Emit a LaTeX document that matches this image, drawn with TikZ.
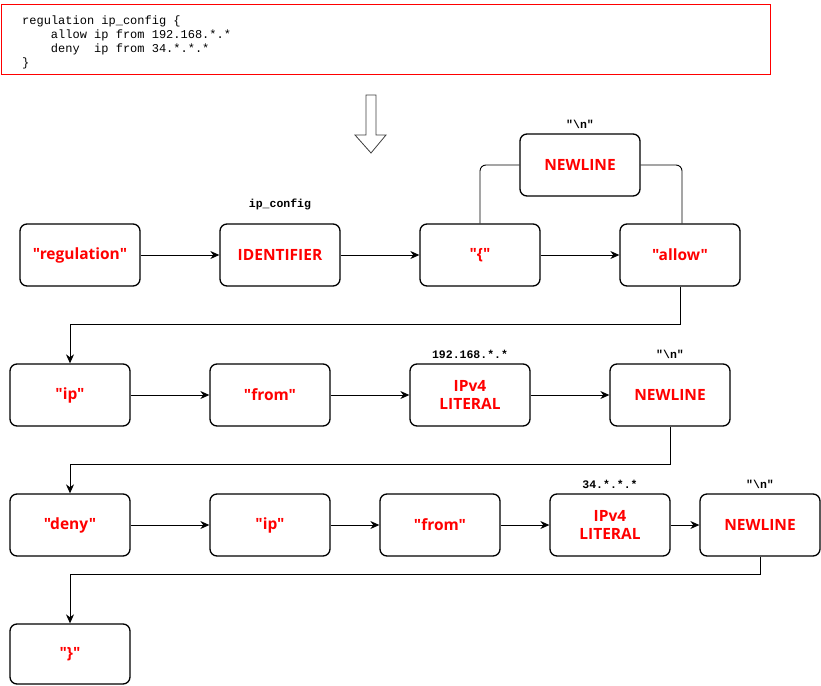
\documentclass[tikz,border=0pt]{standalone}
\usepackage{fontspec}
\setmainfont{Open Sans}
\newfontfamily\codefont{Liberation Mono}
\newfontfamily\tokfamily{Open Sans}
\usetikzlibrary{arrows.meta}
\definecolor{tokred}{RGB}{255,0,0}
\tikzset{
  tok/.style={draw=black, line width=1.3pt, rounded corners=7pt, minimum width=120pt, minimum height=62pt,
    text=tokred, font=\tokfamily\bfseries\fontsize{15.5}{18}\selectfont, align=center, inner sep=0pt},
  lbl/.style={font=\codefont\bfseries\fontsize{11.5}{13}\selectfont, inner sep=0pt},
  codeline/.style={font=\codefont\fontsize{12}{14}\selectfont, anchor=west, inner sep=0pt},
  conn/.style={draw=black, line width=0.9pt, -{Stealth[length=9pt,width=8pt]}},
  plain/.style={draw=black, line width=0.9pt, rounded corners=6pt},
}
\begin{document}
\begin{tikzpicture}[x=1pt,y=-1pt]
\useasboundingbox (0,0) rectangle (821,685);
\fill[white] (0,0) rectangle (821,685);
% code box
\node[draw=tokred, line width=0.8pt, minimum width=769pt, minimum height=70pt, anchor=north west, inner sep=0pt] (code) at (1,4) {};
\node[codeline] (c1) at (22,21) {regulation ip\_config \{};
\node[codeline] (c2) at (22,35) {\hspace*{28.8pt}allow ip from 192.168.*.*};
\node[codeline] (c3) at (22,49) {\hspace*{28.8pt}deny\hspace*{14.4pt}ip from 34.*.*.*};
\node[codeline] (c4) at (22,63) {\}};
% hollow arrow
\draw[line width=0.8pt, draw=black!75, fill=white] (366,95) -- (376,95) -- (376,135) -- (386,135) -- (371,153) -- (355,135) -- (366,135) -- cycle;
% row 1
\node[tok] (reg) at (80,255) {"regulation"};
\node[tok] (ident) at (280,255) {IDENTIFIER};
\node[tok] (lbr) at (480,255) {"\{"};
\node[tok] (allow) at (680,255) {"allow"};
\node[tok] (nl0) at (580,165) {NEWLINE};
\node[lbl] at (280,204) {ip\_config};
\node[lbl] at (580,124) {"\textbackslash n"};
% row 2
\node[tok] (ip1) at (70,395) {"ip"};
\node[tok] (from1) at (270,395) {"from"};
\node[tok] (ipv1) at (470,395) {IPv4\\LITERAL};
\node[tok] (nl1) at (670,395) {NEWLINE};
\node[lbl] at (470,354) {192.168.*.*};
\node[lbl] at (670,354) {"\textbackslash n"};
% row 3
\node[tok] (deny) at (70,525) {"deny"};
\node[tok] (ip2) at (270,525) {"ip"};
\node[tok] (from2) at (440,525) {"from"};
\node[tok] (ipv2) at (610,525) {IPv4\\LITERAL};
\node[tok] (nl2) at (760,525) {NEWLINE};
\node[lbl] at (610,484) {34.*.*.*};
\node[lbl] at (760,484) {"\textbackslash n"};
% row 4
\node[tok, minimum height=60pt] (rbr) at (70,654) {"\}"};
% connectors
\draw[conn] (reg) -- (ident);
\draw[conn] (ident) -- (lbr);
\draw[conn] (lbr) -- (allow);
\draw[plain] (lbr.north) |- (nl0.west);
\draw[plain] (nl0.east) -| ([xshift=2pt]allow.north);
\draw[conn] (allow.south) -- ++(0,38) -| (ip1.north);
\draw[conn] (ip1) -- (from1);
\draw[conn] (from1) -- (ipv1);
\draw[conn] (ipv1) -- (nl1);
\draw[conn] (nl1.south) -- ++(0,38) -| (deny.north);
\draw[conn] (deny) -- (ip2);
\draw[conn] (ip2) -- (from2);
\draw[conn] (from2) -- (ipv2);
\draw[conn] (ipv2) -- (nl2);
\draw[conn] (nl2.south) -- ++(0,18) -| (rbr.north);
\end{tikzpicture}
\end{document}
